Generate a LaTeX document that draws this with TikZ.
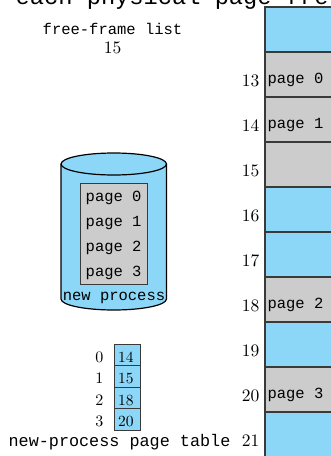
\documentclass[tikz,border=0pt]{standalone}
\usepackage{fontspec}
\newfontfamily\monofont{Liberation Mono}
\newfontfamily\numfont{lmroman10-regular.otf}
\definecolor{memblue}{HTML}{8CD7F7}
\definecolor{memgray}{HTML}{CCCCCC}
\definecolor{edgecol}{HTML}{3A3A3A}
\begin{document}
\begin{tikzpicture}[x=1pt,y=-1pt,
  frm/.style={draw=edgecol, line width=1.2pt, minimum width=90pt, minimum height=45pt, anchor=north west, inner sep=0pt, outer sep=0pt},
  framenum/.style={anchor=base east, inner sep=0pt, font=\numfont\fontsize{17.5}{17.5}\selectfont},
  pgtext/.style={anchor=base west, inner sep=0pt, font=\monofont\fontsize{15.5}{15.5}\selectfont},
  monotext/.style={inner sep=0pt, font=\monofont\fontsize{15.5}{15.5}\selectfont},
  ptbox/.style={draw=edgecol, line width=0.9pt, fill=memblue, minimum width=26pt, minimum height=21.5pt, anchor=north west, inner sep=0pt, outer sep=0pt},
  ptnum/.style={anchor=base west, inner sep=0pt, font=\numfont\fontsize{15.5}{15.5}\selectfont},
  idxnum/.style={anchor=base east, inner sep=0pt, font=\numfont\fontsize{16}{16}\selectfont}]
\useasboundingbox (0,0) rectangle (330,456);

% title (cut off at top)
\node[anchor=base west, inner sep=0pt, font=\monofont\fontsize{23.7}{23.7}\selectfont] (title) at (15.5,4) {each physical page fre};

% memory frames
\foreach \n/\c [count=\i from 0] in {12/memblue,13/memgray,14/memgray,15/memgray,16/memblue,17/memblue,18/memgray,19/memblue,20/memgray,21/memblue}{
  \node[frm, fill=\c] (f\n) at (265,{7+45*\i}) {};
}
\foreach \n [count=\i from 1] in {13,14,15,16,17,18,19,20,21}{
  \node[framenum] (l\n) at (259.5,{7+45*\i+34}) {\n};
}
\node[pgtext] (m0) at (267.3,83) {page 0};
\node[pgtext] (m1) at (267.3,128) {page 1};
\node[pgtext] (m2) at (267.3,308) {page 2};
\node[pgtext] (m3) at (267.3,398) {page 3};

% free-frame list
\node[monotext, anchor=base] (ffl) at (112.5,34) {free-frame list};
\node[anchor=base, inner sep=0pt, font=\numfont\fontsize{17.5}{17.5}\selectfont] (ff) at (112.5,53.3) {15};

% new process (cylinder)
\fill[memblue] (61,164) -- (61,299) arc (180:0:52.75 and 11) -- (166.5,164) -- cycle;
\draw[black, line width=1.2pt] (61,164) -- (61,299) arc (180:0:52.75 and 11) -- (166.5,164);
\draw[black, line width=1.2pt, fill=memblue] (113.75,164) ellipse (52.75 and 11);
\node[draw=edgecol, line width=0.9pt, fill=memgray, minimum width=67pt, minimum height=100.5pt, anchor=north west, inner sep=0pt] (pages) at (79.5,183) {};
\foreach \k in {0,1,2,3}{
  \node[pgtext] (np\k) at (85.5,{201+25*\k}) {page \k};
}
\node[monotext, anchor=base] (np) at (114,300) {new process};

% new-process page table
\foreach \v [count=\i from 0] in {14,15,18,20}{
  \node[ptbox] (pt\i) at (114,{344+21.5*\i}) {};
  \node[ptnum] (pv\i) at (117.8,{362+21.5*\i}) {\v};
  \node[idxnum] (pi\i) at (103.5,{362+21.5*\i}) {\i};
}
\node[anchor=base, inner sep=0pt, font=\monofont\fontsize{16.8}{16.8}\selectfont] (cap) at (119.5,446.5) {new-process page table};
\end{tikzpicture}
\end{document}
